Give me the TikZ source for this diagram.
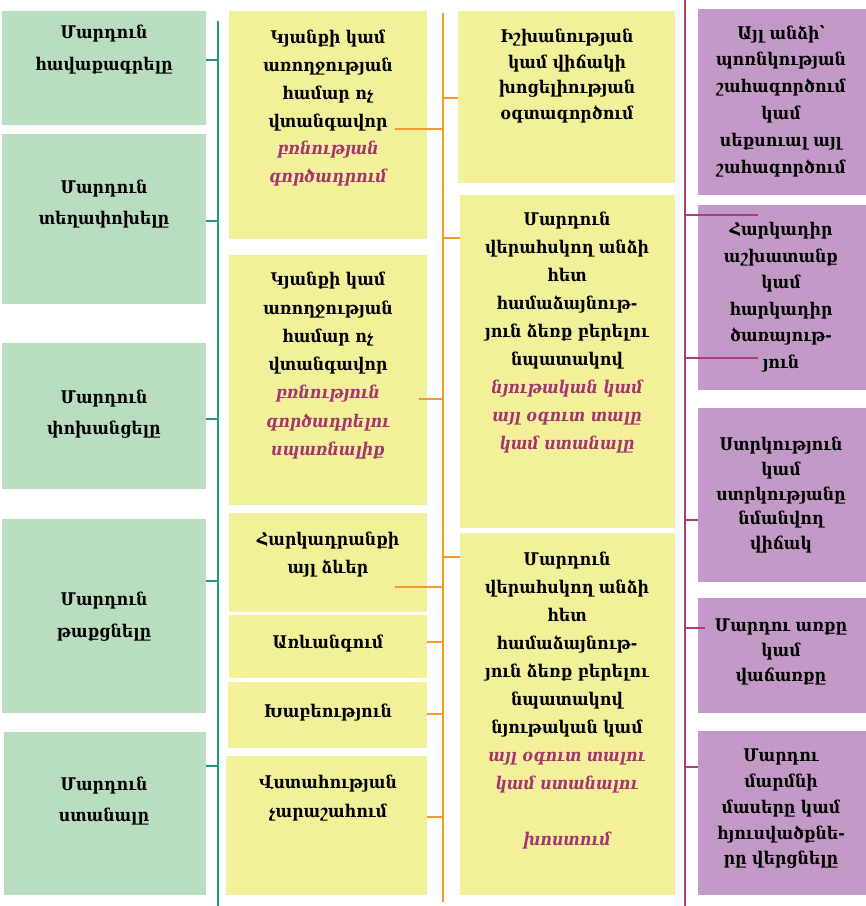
\documentclass[tikz,border=0pt]{standalone}
\usepackage{fontspec}
\setmainfont{DejaVu Serif Condensed}
\usetikzlibrary{fit}
\definecolor{gfill}{HTML}{B8DEBF}
\definecolor{gline}{HTML}{1F9C6E}
\definecolor{yfill}{HTML}{F3F09A}
\definecolor{oline}{HTML}{F29A30}
\definecolor{pfill}{HTML}{C39AC7}
\definecolor{pline}{HTML}{B23D72}
\definecolor{itc}{HTML}{A53470}
\newcommand\hl[1]{{\color{itc}\itshape #1}}
\tikzset{
  box/.style={inner sep=0pt, draw=none},
  gbox/.style={box, fill=gfill},
  ybox/.style={box, fill=yfill},
  pbox/.style={box, fill=pfill},
  txt/.style={align=center, inner sep=0pt, anchor=north, font=\fontsize{17.5}{#1}\selectfont\bfseries},
  txt/.default=27,
  gl/.style={draw=gline, line width=2pt},
  ol/.style={draw=oline, line width=2pt},
  pl/.style={draw=pline, line width=2pt},
}
\begin{document}
\begin{tikzpicture}[x=1pt,y=-1pt]
\useasboundingbox (0,0) rectangle (866,906);
\fill[white] (0,0) rectangle (866,906);
% green boxes
\node[gbox, fit={(2,11) (206,125)}] (g1) {};
\node[gbox, fit={(2,134) (206,304)}] (g2) {};
\node[gbox, fit={(2,343) (206,489)}] (g3) {};
\node[gbox, fit={(2,519) (206,713)}] (g4) {};
\node[gbox, fit={(4,732) (206,895)}] (g5) {};
% yellow column 1
\node[ybox, fit={(229,11) (427,239)}] (a1) {};
\node[ybox, fit={(229,255) (427,505)}] (a2) {};
\node[ybox, fit={(229,513) (427,612)}] (a3) {};
\node[ybox, fit={(229,615) (427,678)}] (a4) {};
\node[ybox, fit={(228,682) (427,748)}] (a5) {};
\node[ybox, fit={(226,756) (427,895)}] (a6) {};
% yellow column 2
\node[ybox, fit={(458,11) (675,183)}] (b1) {};
\node[ybox, fit={(460,195) (675,528)}] (b2) {};
\node[ybox, fit={(460,533) (675,895)}] (b3) {};
% purple
\node[pbox, fit={(698,9) (866,195)}] (p1) {};
\node[pbox, fit={(698,205) (866,390)}] (p2) {};
\node[pbox, fit={(698,408) (866,582)}] (p3) {};
\node[pbox, fit={(698,598) (866,713)}] (p4) {};
\node[pbox, fit={(698,731) (866,895)}] (p5) {};

% texts
\node[txt=32] (g1t) at (104,25) {Մարդուն\\հավաքագրելը};
\node[txt=31] (g2t) at (104,180) {Մարդուն\\տեղափոխելը};
\node[txt=31] (g3t) at (104,390) {Մարդուն\\փոխանցելը};
\node[txt=32] (g4t) at (104,592) {Մարդուն\\թաքցնելը};
\node[txt=31] (g5t) at (104,777) {Մարդուն\\ստանալը};

\node[txt=27.8] (a1t) at (328,30) {Կյանքի կամ\\առողջության\\համար ոչ\\վտանգավոր\\\hl{բռնության}\\\hl{գործադրում}};
\node[txt=28.3] (a2t) at (328,272) {Կյանքի կամ\\առողջության\\համար ոչ\\վտանգավոր\\\hl{բռնություն}\\\hl{գործադրելու}\\\hl{սպառնալիք}};
\node[txt=28] (a3t) at (328,532) {Հարկադրանքի\\այլ ձևեր};
\node[txt] (a4t) at (328,635) {Առևանգում};
\node[txt] (a5t) at (328,704) {Խաբեություն};
\node[txt=29] (a6t) at (328,775) {Վստահության\\չարաշահում};

\node[txt=25.5] (b1t) at (567,29) {Իշխանության\\կամ վիճակի\\խոցելիության\\օգտագործում};
\node[txt=28] (b2t) at (567,212) {Մարդուն\\վերահսկող անձի\\հետ\\համաձայնութ-\\յուն ձեռք բերելու\\նպատակով\\\hl{նյութական կամ}\\\hl{այլ օգուտ տալը}\\\hl{կամ ստանալը}};
\node[txt=28] (b3t) at (567,552) {Մարդուն\\վերահսկող անձի\\հետ\\համաձայնութ-\\յուն ձեռք բերելու\\նպատակով\\նյութական կամ\\\hl{այլ օգուտ տալու}\\\hl{կամ ստանալու}\\[28pt]\hl{խոստում}};

\node[txt=26.8] (p1t) at (781,25) {Այլ անձի՝\\պոռնկության\\շահագործում\\կամ\\սեքսուալ այլ\\շահագործում};
\node[txt=26.6] (p2t) at (781,222) {Հարկադիր\\աշխատանք\\կամ\\հարկադիր\\ծառայութ-\\յուն};
\node[txt=24.7] (p3t) at (781,437) {Ստրկություն\\կամ\\ստրկությանը\\նմանվող\\վիճակ};
\node[txt=25] (p4t) at (781,619) {Մարդու առքը\\կամ\\վաճառքը};
\node[txt=25.7] (p5t) at (781,749) {Մարդու\\մարմնի\\մասերը կամ\\հյուսվածքնե-\\րը վերցնելը};

% vertical lines
\coordinate (gTop) at (218,21);  \coordinate (gBot) at (218,906);
\coordinate (oTop) at (443,13);  \coordinate (oBot) at (443,902);
\coordinate (pTop) at (685,0);   \coordinate (pBot) at (685,906);
\draw[gl] (gTop) -- (gBot);
\draw[ol] (oTop) -- (oBot);
\draw[pl] (pTop) -- (pBot);

% green connectors
\foreach \n/\y in {g1/60, g2/221, g3/419, g4/581, g5/766}{
  \coordinate (c\n) at (218,\y);
  \draw[gl] (\n.east |- c\n) -- (c\n);
}
% orange connectors from column 1
\coordinate (sa1) at (395,129); \coordinate (sa2) at (419,399); \coordinate (sa3) at (395,587);
\foreach \s in {sa1,sa2,sa3}{ \draw[ol] (\s) -- (\s -| oTop); }
\foreach \n/\y in {a4/642, a5/714, a6/817}{
  \coordinate (c\n) at (443,\y);
  \draw[ol] (\n.east |- c\n) -- (c\n);
}
% orange connectors to column 2
\foreach \n/\y in {b1/98, b2/238, b3/557}{
  \coordinate (c\n) at (443,\y);
  \draw[ol] (c\n) -- (\n.west |- c\n);
}
% purple connectors
\coordinate (ep1) at (758,215); \coordinate (ep2) at (758,358);
\draw[pl] (ep1 -| pTop) -- (ep1);
\draw[pl] (ep2 -| pTop) -- (ep2);
\coordinate (ep4) at (705,628);
\draw[pl] (ep4 -| pTop) -- (ep4);
\foreach \n/\y in {p3/520, p5/767}{
  \coordinate (c\n) at (685,\y);
  \draw[pl] (c\n) -- (\n.west |- c\n);
}
\end{tikzpicture}
\end{document}
